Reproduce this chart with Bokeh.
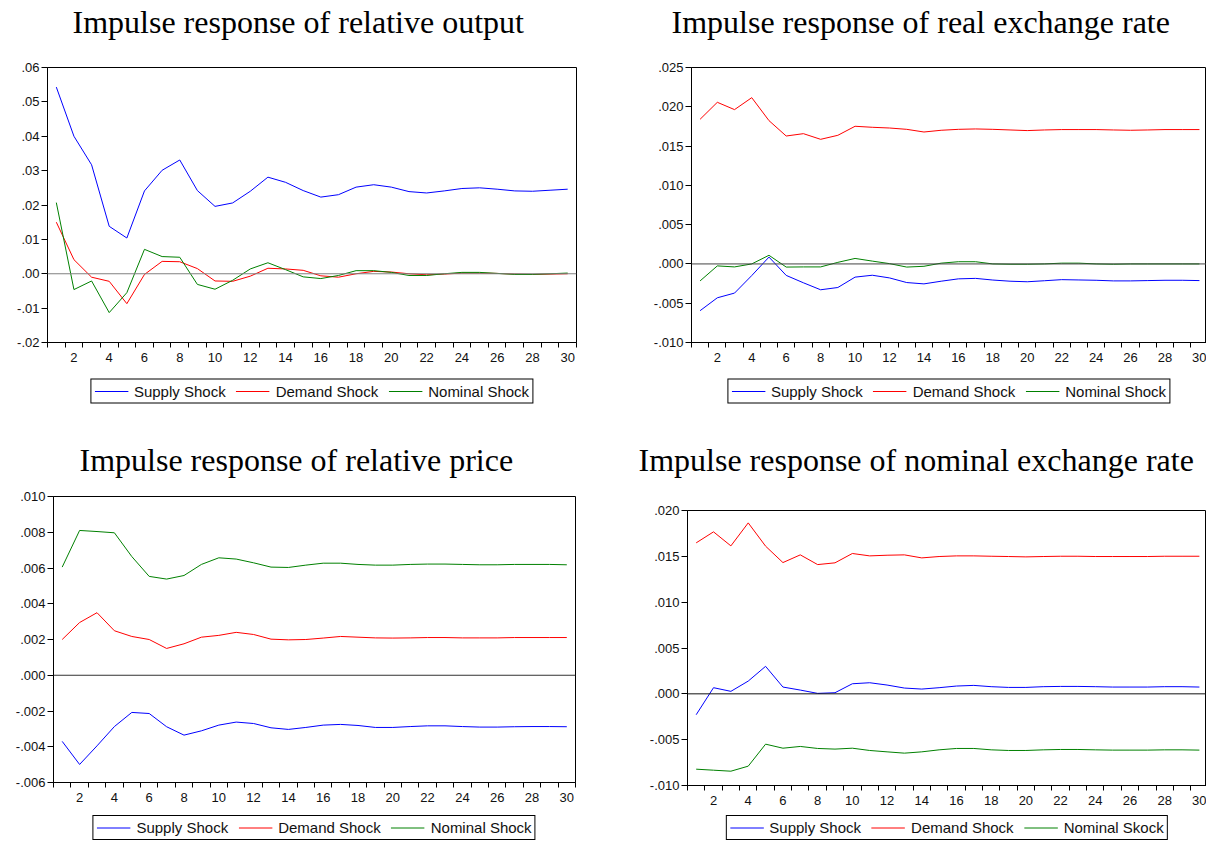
from bokeh.plotting import figure
from bokeh.models import FixedTicker, CustomJSTickFormatter, Span, Legend, LegendItem, Range1d, Label
from bokeh.layouts import column, row
from bokeh.embed import file_html
from bokeh.resources import INLINE

periods = list(range(1, 31))
x_tick_labels = [2, 4, 6, 8, 10, 12, 14, 16, 18, 20, 22, 24, 26, 28, 30]
series_names = ["Supply Shock", "Demand Shock", "Nominal Shock"]
series_names_ner = ["Supply Shock", "Demand Shock", "Nominal Skock"]

titles = [
    "Impulse response of relative output",
    "Impulse response of  real exchange rate",
    "Impulse response of  relative price",
    "Impulse response of nominal exchange rate",
]

# Panel 1: relative output
output_supply = [0.0543, 0.0400, 0.0317, 0.0138, 0.0104, 0.0241, 0.0301, 0.0331, 0.0242, 0.0196,
                 0.0206, 0.0240, 0.0281, 0.0266, 0.0242, 0.0223, 0.0230, 0.0252, 0.0259, 0.0252,
                 0.0239, 0.0235, 0.0241, 0.0248, 0.0250, 0.0246, 0.0241, 0.0240, 0.0243, 0.0246]
output_demand = [0.0150, 0.0041, -0.0010, -0.0022, -0.0087, -0.0002, 0.0036, 0.0035, 0.0015, -0.0021,
                 -0.0022, -0.0007, 0.0016, 0.0014, 0.0010, -0.0006, -0.0010, 0.0000, 0.0007, 0.0005,
                 0.0000, -0.0003, -0.0001, 0.0002, 0.0002, 0.0001, -0.0001, -0.0002, -0.0001, 0.0000]
output_nominal = [0.0207, -0.0046, -0.0021, -0.0113, -0.0055, 0.0071, 0.0050, 0.0048, -0.0031, -0.0045,
                  -0.0019, 0.0014, 0.0032, 0.0012, -0.0009, -0.0014, -0.0005, 0.0009, 0.0009, 0.0004,
                  -0.0005, -0.0005, 0.0000, 0.0004, 0.0004, 0.0001, -0.0002, -0.0002, 0.0000, 0.0002]
output_yticks = [-0.02, -0.01, 0.0, 0.01, 0.02, 0.03, 0.04, 0.05, 0.06]

# Panel 2: real exchange rate
rer_supply = [-0.00595, -0.00431, -0.00371, -0.00148, 0.00087, -0.00146, -0.00240, -0.00329, -0.00300, -0.00168,
              -0.00144, -0.00178, -0.00237, -0.00254, -0.00220, -0.00190, -0.00184, -0.00205, -0.00220, -0.00227,
              -0.00214, -0.00200, -0.00204, -0.00208, -0.00216, -0.00216, -0.00212, -0.00208, -0.00208, -0.00212]
rer_demand = [0.01841, 0.02057, 0.01964, 0.02116, 0.01824, 0.01628, 0.01658, 0.01586, 0.01637, 0.01752,
              0.01739, 0.01730, 0.01713, 0.01679, 0.01701, 0.01713, 0.01718, 0.01713, 0.01705, 0.01697,
              0.01705, 0.01710, 0.01710, 0.01710, 0.01705, 0.01701, 0.01705, 0.01710, 0.01710, 0.01710]
rer_nominal = [-0.00216, -0.00025, -0.00038, 0.00000, 0.00110, -0.00040, -0.00038, -0.00038, 0.00020, 0.00070,
               0.00036, 0.00004, -0.00040, -0.00030, 0.00010, 0.00028, 0.00028, 0.00000, -0.00004, -0.00004,
               0.00000, 0.00010, 0.00010, 0.00000, -0.00004, 0.00000, 0.00000, 0.00000, 0.00000, 0.00000]
rer_yticks = [-0.010, -0.005, 0.0, 0.005, 0.010, 0.015, 0.020, 0.025]

# Panel 3: relative price
price_supply = [-0.00370, -0.00499, -0.00395, -0.00287, -0.00208, -0.00214, -0.00288, -0.00335, -0.00311, -0.00279,
                -0.00262, -0.00270, -0.00294, -0.00303, -0.00292, -0.00279, -0.00275, -0.00281, -0.00292, -0.00292,
                -0.00287, -0.00283, -0.00283, -0.00287, -0.00290, -0.00290, -0.00288, -0.00287, -0.00287, -0.00288]
price_demand = [0.00200, 0.00295, 0.00350, 0.00249, 0.00217, 0.00200, 0.00150, 0.00176, 0.00213, 0.00223,
                0.00240, 0.00228, 0.00202, 0.00198, 0.00200, 0.00208, 0.00217, 0.00213, 0.00209, 0.00208,
                0.00209, 0.00211, 0.00211, 0.00209, 0.00209, 0.00209, 0.00211, 0.00211, 0.00211, 0.00211]
price_nominal = [0.00605, 0.00810, 0.00804, 0.00797, 0.00664, 0.00553, 0.00538, 0.00558, 0.00620, 0.00657,
                 0.00650, 0.00629, 0.00605, 0.00603, 0.00616, 0.00627, 0.00627, 0.00620, 0.00616, 0.00616,
                 0.00620, 0.00622, 0.00622, 0.00620, 0.00618, 0.00618, 0.00620, 0.00620, 0.00620, 0.00618]
price_yticks = [-0.006, -0.004, -0.002, 0.0, 0.002, 0.004, 0.006, 0.008, 0.010]

# Panel 4: nominal exchange rate
ner_supply = [-0.00228, 0.00067, 0.00027, 0.00139, 0.00300, 0.00074, 0.00041, 0.00005, 0.00012, 0.00110,
              0.00121, 0.00096, 0.00063, 0.00052, 0.00067, 0.00085, 0.00092, 0.00078, 0.00070, 0.00070,
              0.00078, 0.00081, 0.00081, 0.00078, 0.00074, 0.00074, 0.00074, 0.00078, 0.00078, 0.00074]
ner_demand = [0.01647, 0.01767, 0.01614, 0.01865, 0.01611, 0.01432, 0.01516, 0.01410, 0.01429, 0.01531,
              0.01505, 0.01512, 0.01516, 0.01483, 0.01498, 0.01505, 0.01505, 0.01501, 0.01498, 0.01494,
              0.01498, 0.01501, 0.01501, 0.01498, 0.01498, 0.01498, 0.01498, 0.01501, 0.01501, 0.01501]
ner_nominal = [-0.00822, -0.00833, -0.00844, -0.00789, -0.00549, -0.00593, -0.00574, -0.00596, -0.00603, -0.00593,
               -0.00618, -0.00633, -0.00647, -0.00633, -0.00611, -0.00596, -0.00596, -0.00611, -0.00618, -0.00618,
               -0.00611, -0.00607, -0.00607, -0.00611, -0.00614, -0.00614, -0.00614, -0.00611, -0.00611, -0.00614]
ner_yticks = [-0.010, -0.005, 0.0, 0.005, 0.010, 0.015, 0.020]

COLORS = ["#0000FF", "#FF0000", "#008000"]
TICK_FONT = "Liberation Sans"


def strip(width, height, bl, br):
    # x and y data units equal canvas pixels (y measured downward from the top)
    s = figure(width=width, height=height, title=None,
               min_border_left=bl, min_border_right=br, min_border_top=0, min_border_bottom=0,
               x_range=Range1d(bl, width - br), y_range=Range1d(height, 0),
               x_axis_type=None, y_axis_type=None, output_backend="svg", toolbar_location=None)
    s.outline_line_color = None
    s.xgrid.visible = False
    s.ygrid.visible = False
    s.border_fill_color = "white"
    s.background_fill_color = "white"
    return s


def make_panel(title, series, names, yticks, decimals, frame_w, frame_h, borders,
               x_end, title_h, title_xy, zero_color, legend_h, legend_loc, legend_margin):
    bl, br, bt, bb = borders
    W = bl + frame_w + br

    # title strip (its own row, full-width frame)
    ts = strip(W, title_h, 0, 0)
    ts.add_layout(Label(x=title_xy[0], y=title_xy[1], text=title,
                        text_font="Liberation Serif", text_font_size="32px",
                        text_color="black", text_align="left", text_baseline="alphabetic"))

    p = figure(width=W, height=bt + frame_h + bb, title=None,
               min_border_left=bl, min_border_right=br, min_border_top=bt, min_border_bottom=bb,
               x_range=Range1d(0.5, x_end), y_range=Range1d(yticks[0], yticks[-1]),
               output_backend="svg", toolbar_location=None)
    p.background_fill_color = "white"
    p.border_fill_color = "white"
    p.outline_line_color = "black"
    p.outline_line_width = 1
    p.xgrid.visible = False
    p.ygrid.visible = False

    # x axis: minor ticks on slot boundaries, labels on even periods
    minor = [v - 0.5 for v in periods] + [periods[-1] + 0.5]
    p.xaxis.ticker = FixedTicker(ticks=x_tick_labels, minor_ticks=minor)
    p.xaxis.major_tick_out = 0
    p.xaxis.major_tick_in = 0
    p.xaxis.minor_tick_out = 5
    p.xaxis.minor_tick_in = 0
    p.xaxis.minor_tick_line_color = "black"
    p.xaxis.major_label_standoff = 5
    p.xaxis.axis_line_color = "black"

    p.yaxis.ticker = FixedTicker(ticks=yticks)
    p.yaxis.formatter = CustomJSTickFormatter(args=dict(d=decimals), code="""
        const v = Math.abs(tick) < 1e-12 ? 0 : tick;
        return v.toFixed(d).replace('0.', '.');
    """)
    p.yaxis.major_tick_out = 6
    p.yaxis.major_tick_in = 0
    p.yaxis.minor_tick_out = 0
    p.yaxis.minor_tick_in = 0
    p.yaxis.major_label_standoff = 2
    p.yaxis.axis_line_color = "black"

    for ax in (p.xaxis, p.yaxis):
        ax.major_label_text_font = TICK_FONT
        ax.major_label_text_font_size = "13px"
        ax.major_label_text_color = "#111111"
        ax.major_tick_line_color = "black"

    p.add_layout(Span(location=0, dimension="width", line_color=zero_color, line_width=1))

    for vals, color in zip(series, COLORS):
        p.line(periods, vals, line_color=color, line_width=1)

    # legend strip below the chart
    lf = strip(W, legend_h, bl, br)
    items = []
    for vals, color, name in zip(series, COLORS, names):
        r = lf.line(x=[periods[0]], y=[vals[0]], line_color=color, line_width=1)
        items.append(LegendItem(label=name, renderers=[r]))
    legend = Legend(items=items, orientation="horizontal", location=legend_loc)
    legend.label_text_font = TICK_FONT
    legend.label_text_font_size = "15px"
    legend.label_text_color = "#111111"
    legend.label_height = 15
    legend.glyph_height = 15
    legend.glyph_width = 34
    legend.label_standoff = 6
    legend.spacing = 10
    legend.padding = 3
    legend.margin = legend_margin
    legend.border_line_color = "black"
    legend.border_line_alpha = 1.0
    legend.border_line_width = 1
    legend.background_fill_color = "white"
    legend.background_fill_alpha = 1.0
    lf.add_layout(legend, "center")
    return ts, column(p, lf)


t1, c1 = make_panel(titles[0], [output_supply, output_demand, output_nominal], series_names,
                    output_yticks, 2, 529, 275, (47, 74, 22, 25), 30.5, 45, (72, 21), "#808080",
                    48, "center", 0)
t2, c2 = make_panel(titles[1], [rer_supply, rer_demand, rer_nominal], series_names,
                    rer_yticks, 3, 519, 275, (37, 0, 22, 25), 30.41, 45, (21, 21), "#444444",
                    48, "center", 0)
t3, c3 = make_panel(titles[2], [price_supply, price_demand, price_nominal], series_names,
                    price_yticks, 3, 522, 286, (53, 61, 16, 25), 30.5, 65, (79, 44), "#333333",
                    37, "bottom", 4)
t4, c4 = make_panel(titles[3], [ner_supply, ner_demand, ner_nominal], series_names_ner,
                    ner_yticks, 3, 519, 275, (51, 0, 30, 22), 30.41, 65, (2, 44), "#111111",
                    37, "bottom", 4)

layout = column(row(t1, t2), row(c1, c2), row(t3, t4), row(c3, c4))
open("out.html", "w").write(file_html(layout, INLINE))
